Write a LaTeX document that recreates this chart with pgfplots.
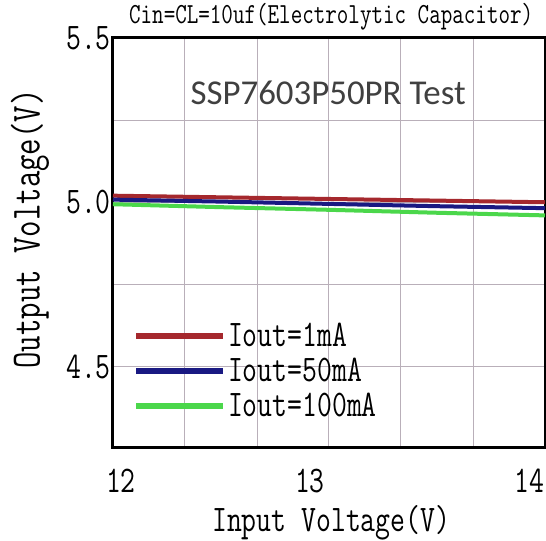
\documentclass[border=0pt]{standalone}
\usepackage{pgfplots}
\pgfplotsset{compat=1.18}
\usepackage{fontspec}
\newfontfamily\carlito{Carlito}
\newcommand\tall[1]{\scalebox{1}[1.3]{#1}}
\definecolor{cred}{RGB}{165,40,45}
\definecolor{cblue}{RGB}{25,25,130}
\definecolor{cgreen}{RGB}{75,215,75}
\definecolor{gridc}{RGB}{185,175,185}
\begin{document}
\begin{tikzpicture}
\path[use as bounding box] (-113bp,-94bp) rectangle (433bp,447bp);
\begin{axis}[
  scale only axis, width=432bp, height=409bp,
  xmin=12, xmax=14, ymin=4.255, ymax=5.5,
  axis line style={line width=3bp},
  xtick={12.037,12.912,13.926},
  xticklabels={\tall{12},\tall{13},\tall{14}},
  minor xtick={12.3333,12.6667,13,13.3333,13.6667},
  ytick={4.5,5.0,5.5},
  yticklabels={\tall{4.5},\tall{5.0},\tall{5.5}},
  minor ytick={4.5,4.75,5,5.25},
  xminorgrids=true, yminorgrids=true,
  minor grid style={gridc, line width=1bp},
  major tick length=0pt, minor tick length=0pt,
  tick label style={font=\ttfamily\fontsize{29}{34}\selectfont},
  xticklabel style={anchor=base, yshift=-45bp},
  yticklabel style={anchor=east, inner sep=2bp},
  title={\tall{Cin=CL=10uf(Electrolytic Capacitor)}},
  title style={at={(axis description cs:0.505,1.037)}, anchor=center, inner sep=0pt, font=\ttfamily\fontsize{22.5}{26}\selectfont},
  xlabel={\tall{Input Voltage(V)}},
  xlabel style={at={(axis description cs:0.505,-0.186)}, anchor=center, font=\ttfamily\fontsize{29}{34}\selectfont},
  ylabel={\tall{Output Voltage(V)}},
  ylabel style={at={(axis description cs:-0.192,0.533)}, anchor=center, font=\ttfamily\fontsize{32}{36}\selectfont},
  legend style={at={(axis description cs:0.046,0.186)}, anchor=west, draw=none, fill=none,
    font=\ttfamily\fontsize{29}{34}\selectfont, row sep=6bp, inner sep=0pt},
  legend cell align=left,
  legend image code/.code={\draw[#1, line width=6bp] (0bp,0bp) -- (87bp,0bp);},
]
\addplot[cred, line width=4bp] coordinates {(12,5.020) (12.5,5.015) (13,5.010) (13.5,5.005) (14,5.000)};
\addlegendentry{\tall{Iout=1mA}}
\addplot[cblue, line width=4bp] coordinates {(12,5.008) (12.5,5.002) (13,4.995) (13.5,4.988) (14,4.982)};
\addlegendentry{\tall{Iout=50mA}}
\addplot[cgreen, line width=4bp] coordinates {(12,4.994) (12.5,4.985) (13,4.977) (13.5,4.968) (14,4.960)};
\addlegendentry{\tall{Iout=100mA}}
\node[font=\carlito\fontsize{35}{40}\selectfont, text=black!75] at (axis description cs:0.498,0.866) {SSP7603P50PR Test};
\end{axis}
\end{tikzpicture}
\end{document}
